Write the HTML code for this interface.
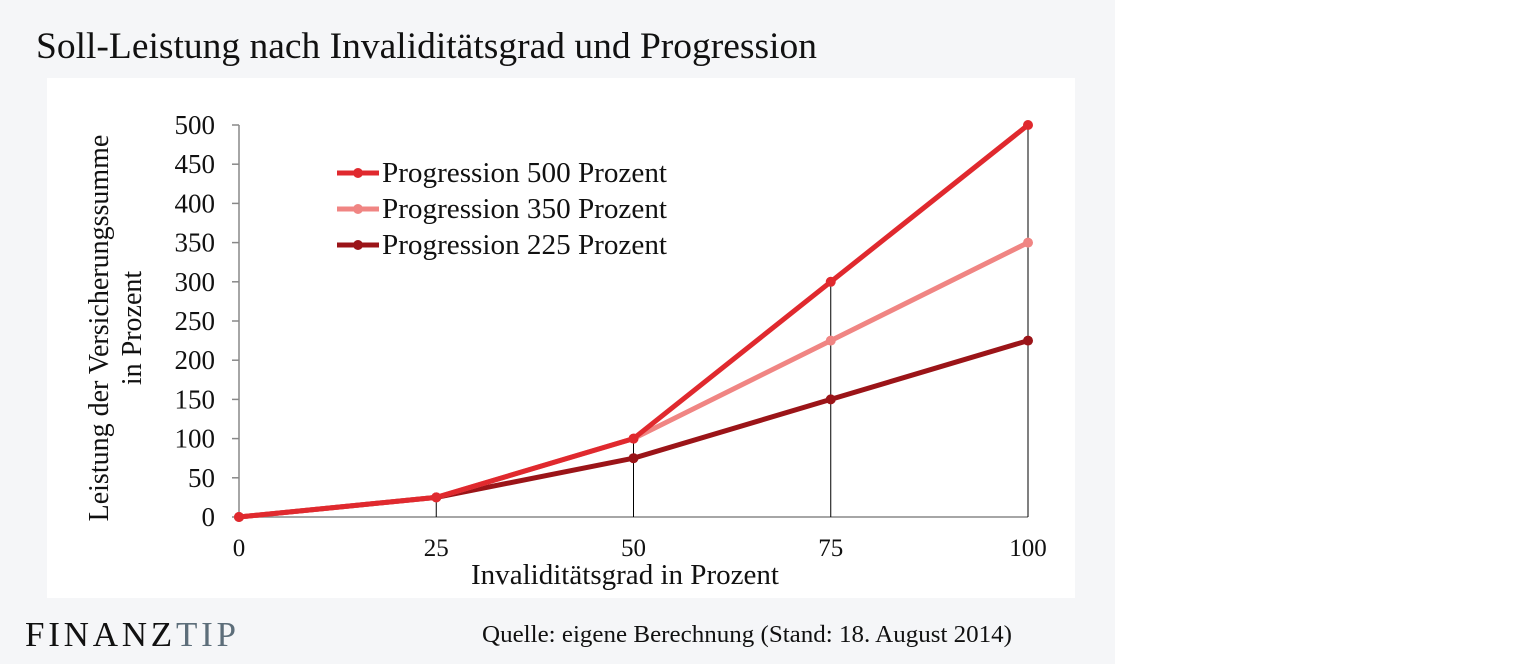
<!DOCTYPE html>
<html><head><meta charset="utf-8"><style>
html,body{margin:0;padding:0;width:1520px;height:664px;background:#fff;overflow:hidden}
svg{display:block;font-family:"Liberation Serif",serif}
</style></head><body>
<svg width="1520" height="664">
<rect x="0" y="0" width="1115" height="664" fill="#f5f6f8"/>
<rect x="47" y="78" width="1028" height="520" fill="#ffffff"/>
<text x="36" y="58" font-size="37" fill="#111" textLength="781" lengthAdjust="spacingAndGlyphs">Soll-Leistung nach Invaliditätsgrad und Progression</text>
<g id="axes"></g>
<g id="drops"></g>
<g id="series"></g>
<g id="legend"></g>
<text x="471" y="584" font-size="28" fill="#111" textLength="308" lengthAdjust="spacingAndGlyphs">Invaliditätsgrad in Prozent</text>
<text transform="translate(108,328) rotate(-90)" font-size="28" text-anchor="middle" fill="#111"><tspan x="0" dy="0">Leistung der Versicherungssumme</tspan><tspan x="0" dy="33">in Prozent</tspan></text>
<text x="25" y="646" font-size="35" textLength="211" lengthAdjust="spacing"><tspan fill="#111">FINANZ</tspan><tspan fill="#5d6e7a">TIP</tspan></text>
<text x="482" y="642" font-size="24" fill="#111" textLength="530" lengthAdjust="spacingAndGlyphs">Quelle: eigene Berechnung (Stand: 18. August 2014)</text>
</svg>
<script>
const categories=[0,25,50,75,100];
const p500=[0,25,100,300,500];
const p350=[0,25,100,225,350];
const p225=[0,25,75,150,225];
const yTicks=[0,50,100,150,200,250,300,350,400,450,500];
const xTicks=[0,25,50,75,100];
const seriesNames=["Progression 500 Prozent","Progression 350 Prozent","Progression 225 Prozent"];
const NS="http://www.w3.org/2000/svg";
const X=v=>239+(v/100)*789, Y=v=>517-(v/500)*392;
function mk(tag,attrs,parent){const e=document.createElementNS(NS,tag);for(const k in attrs)e.setAttribute(k,attrs[k]);parent.appendChild(e);return e;}
const axes=document.getElementById('axes');
let a=mk('line',{x1:239,y1:Y(500),x2:239,y2:517,stroke:'#888','stroke-width':1.5},axes);


a=mk('line',{x1:239,y1:517,x2:1028,y2:517,stroke:'#888','stroke-width':1.5},axes);


yTicks.forEach(t=>{
 const l=mk('line',{x1:232,x2:239,y1:Y(t),y2:Y(t),stroke:'#888','stroke-width':1.5},axes);
 
 
 const tx=mk('text',{x:215,y:Y(t)+9,'font-size':27,'text-anchor':'end',fill:'#111'},axes);
 tx.textContent=t;
 
 
});
xTicks.forEach(t=>{
 const tx=mk('text',{x:X(t),y:556,'font-size':25,'text-anchor':'middle',fill:'#111'},axes);
 tx.textContent=t;
 
 
});
const drops=document.getElementById('drops');
categories.forEach((c,i)=>{ if(i===0)return;
 const mx=Math.max(p500[i],p350[i],p225[i]);
 const l=mk('line',{x1:X(c),x2:X(c),y1:Y(mx),y2:517,stroke:'#000','stroke-width':1},drops);
 
 
});
const ser=[[p225,'#9b1418','series-225'],[p350,'#f08583','series-350'],[p500,'#e0292e','series-500']];
const sg=document.getElementById('series');
ser.forEach(([vals,col,name])=>{
 const g=mk('g',{},sg);
 
 
 const pl=mk('polyline',{points:categories.map((c,i)=>X(c)+','+Y(vals[i])).join(' '),fill:'none',stroke:col,'stroke-width':5,'stroke-linejoin':'round'},g);
 
 
 categories.forEach((c,i)=>{
  const p=mk('circle',{cx:X(c),cy:Y(vals[i]),r:5,fill:col},g);
  
  
 });
});
const lg=document.getElementById('legend');
const lcols=['#e0292e','#f08583','#9b1418'];
seriesNames.forEach((n,i)=>{
 const y=173+i*36;
 const g=mk('g',{},lg);
 
 
 mk('line',{x1:337,x2:379,y1:y,y2:y,stroke:lcols[i],'stroke-width':5},g);
 mk('circle',{cx:358,cy:y,r:5,fill:lcols[i]},g);
 const t=mk('text',{x:382,y:y+9,'font-size':28,fill:'#111',textLength:285,lengthAdjust:'spacingAndGlyphs'},g);
 t.textContent=n;
});
</script>
</body></html>
